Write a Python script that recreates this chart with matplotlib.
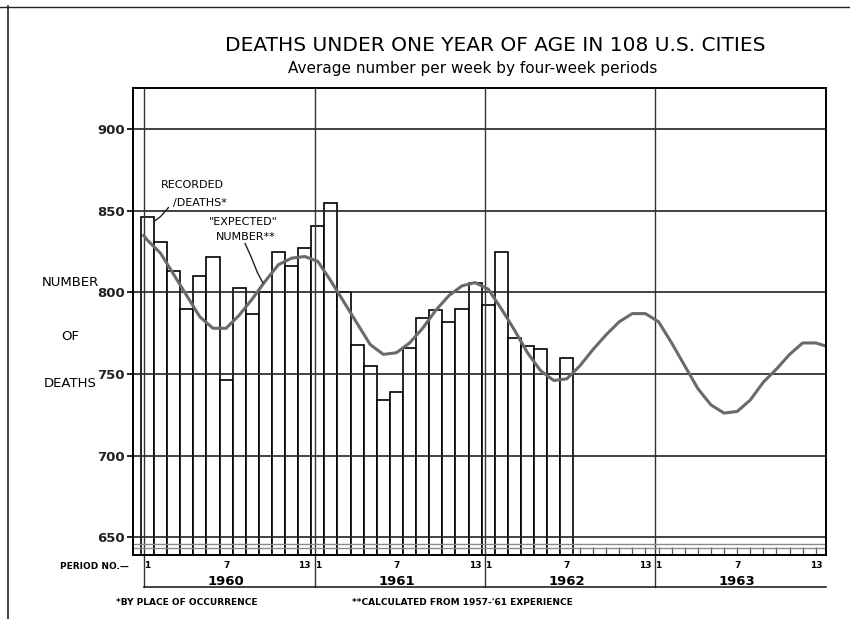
import numpy as np
import matplotlib
matplotlib.use("Agg")
import matplotlib.pyplot as plt

# recorded deaths, average per week, four-week periods 1960 P1 .. 1962 P7
recorded = [846, 831, 813, 790, 810, 822, 746, 803, 787, 800, 825, 816, 827,
            841, 855, 800, 768, 755, 734, 739, 766, 784, 789, 782, 790, 806,
            792, 825, 772, 767, 765, 750, 760]

# "expected" number (period index, value)
expected_x = [-0.3] + list(range(52)) + [51.8]
expected = [835,
            832, 824, 811, 798, 785, 778, 778, 786, 796, 807, 817, 821, 822,
            819, 807, 794, 781, 768, 762, 763, 769, 778, 789, 798, 804, 806,
            802, 790, 777, 763, 752, 746, 747, 755, 765, 774, 782, 787, 787,
            782, 769, 755, 741, 731, 726, 727, 734, 745, 753, 762, 769, 769,
            767]

years = ["1960", "1961", "1962", "1963"]
period_labels = {0: "1", 6: "7", 12: "13"}

fig = plt.figure(figsize=(8.5, 6.19), dpi=100)
ax = fig.add_axes([0.1565, 0.1034, 0.8153, 0.7544])

x_rec = np.arange(len(recorded))

ax.bar(x_rec, recorded, width=1.0, color="white", edgecolor="black",
       linewidth=1.2, zorder=3)
ax.plot(expected_x, expected, color="#6a6a6a", linewidth=2.2, zorder=5,
        solid_capstyle="round", solid_joinstyle="round")

ax.set_xlim(-1.1, 51.78)
ax.set_ylim(639, 925.3)

# grid
for v in [650, 700, 750, 800, 850, 900]:
    ax.axhline(v, color="#222222", linewidth=1.2, zorder=4)
for k in range(4):
    ax.axvline(-0.25 + 13 * k, color="#333333", linewidth=1.0, zorder=4)

# broken-axis strip near the bottom
ax.axhline(645.5, color="#8a8a8a", linewidth=1.0, zorder=5)
ax.axhline(643.5, color="#8a8a8a", linewidth=1.0, zorder=5)

for s in ax.spines.values():
    s.set_linewidth(1.4)
    s.set_zorder(6)

ax.set_yticks([650, 700, 750, 800, 850, 900])
ax.set_yticklabels(["650", "700", "750", "800", "850", "900"],
                   fontsize=9.5, fontweight="bold", color="#222222")
ax.tick_params(axis="y", direction="out", length=4, width=1.2, pad=2)
ax.set_xticks(np.arange(52))
ax.set_xticklabels([])
ax.tick_params(axis="x", direction="in", length=6, width=0.9, color="#555555")

# period numbers and years under the axis
tr = ax.get_xaxis_transform()
for k in range(4):
    for p, lab in period_labels.items():
        ax.text(13 * k + p, -0.012, lab, transform=tr, ha="center", va="top",
                fontsize=6.5, fontweight="bold")
    ax.text(13 * k + 6, -0.042, years[k], transform=tr, ha="center",
            va="top", fontsize=9.5, fontweight="bold")
    ax.plot([-0.25 + 13 * k] * 2, [0, -0.0685], transform=tr,
            color="#333333", linewidth=1.0, clip_on=False)
ax.plot([-0.25, 51.75], [-0.0685, -0.0685], transform=tr, color="#222222",
        linewidth=1.2, clip_on=False)
ax.text(-1.45, -0.015, "PERIOD NO.\u2014", transform=tr, ha="right", va="top",
        fontsize=6.5, fontweight="bold")

# axis label
fig.text(0.083, 0.543, "NUMBER", ha="center", va="center", fontsize=9.5)
fig.text(0.083, 0.456, "OF", ha="center", va="center", fontsize=9.5)
fig.text(0.083, 0.381, "DEATHS", ha="center", va="center", fontsize=9.5)

# titles
fig.text(0.583, 0.927, "DEATHS UNDER ONE YEAR OF AGE IN 108 U.S. CITIES",
         ha="center", va="center", fontsize=14.5, fontweight="medium")
fig.text(0.5565, 0.890, "Average number per week by four-week periods",
         ha="center", va="center", fontsize=11, fontweight="medium")

# series labels
ax.text(3.4, 866, "RECORDED", ha="center", va="center", fontsize=8,
        zorder=7)
ax.text(4.0, 855, "/DEATHS*", ha="center", va="center", fontsize=8,
        zorder=7)
ax.plot([0.5, 1.0, 1.6], [843.5, 846.5, 852], color="#222222",
        linewidth=1.0, zorder=7)
ax.text(7.3, 843.3, '"EXPECTED"', ha="center", va="center", fontsize=8,
        zorder=7)
ax.text(7.5, 834, "NUMBER**", ha="center", va="center", fontsize=8,
        zorder=7)
ax.plot([7.45, 7.9, 8.4, 8.8], [830, 822, 812, 806], color="#222222",
        linewidth=1.0, zorder=7)

# footnotes
fig.text(0.220, 0.027, "*BY PLACE OF OCCURRENCE", ha="center", va="center",
         fontsize=6.5, fontweight="bold")
fig.text(0.544, 0.027, "**CALCULATED FROM 1957-'61 EXPERIENCE", ha="center",
         va="center", fontsize=6.5, fontweight="bold")

# page frame from the scan
fig.add_artist(plt.Line2D([0.0095, 0.0095], [0, 0.99], color="#222222",
                          linewidth=1.2, transform=fig.transFigure))
fig.add_artist(plt.Line2D([0, 1], [0.989, 0.989], color="#222222",
                          linewidth=1.0, transform=fig.transFigure))

fig.savefig("out.png", dpi=100)
